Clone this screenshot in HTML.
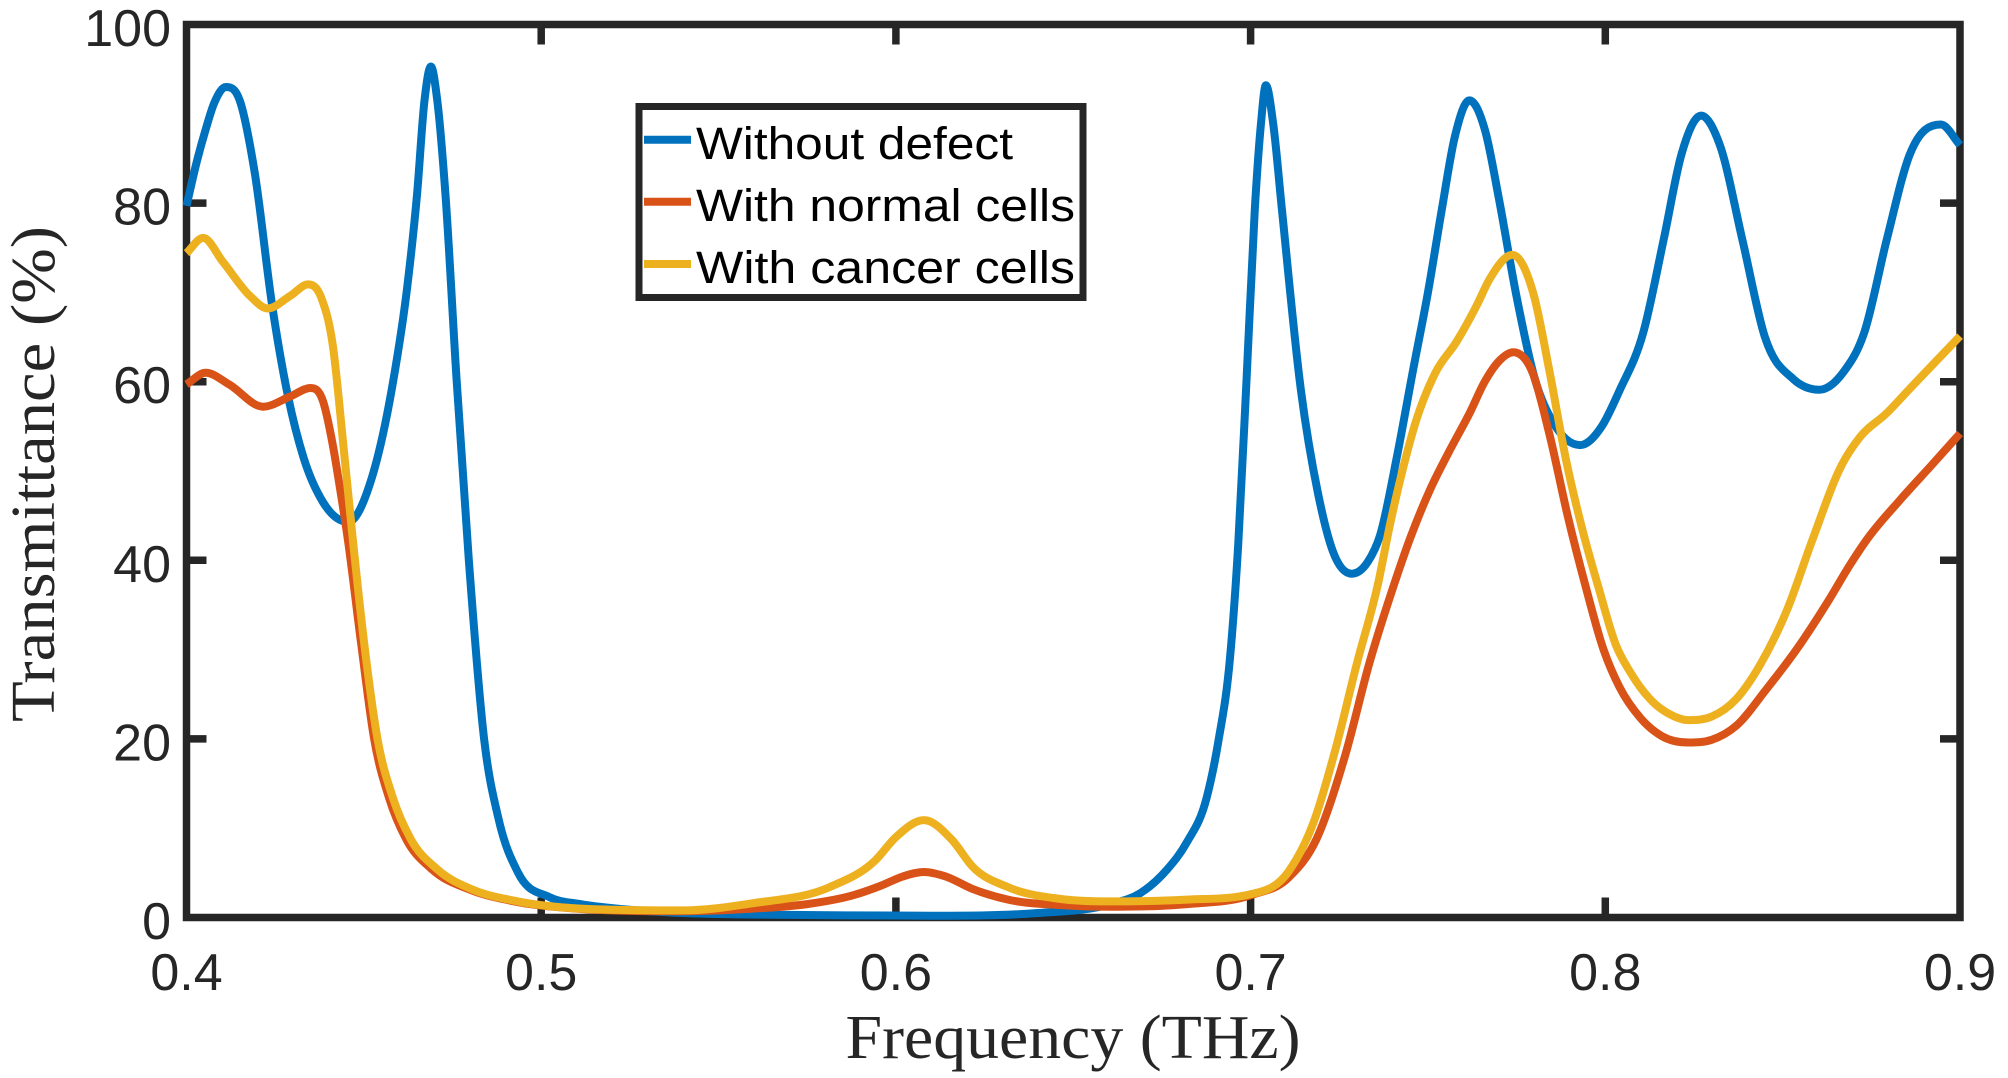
<!DOCTYPE html>
<html>
<head>
<meta charset="utf-8">
<style>
html,body{margin:0;padding:0;background:#fff;}
svg{display:block;}
.tl{font-family:"Liberation Sans",Arial,sans-serif;font-size:52px;fill:#262626;}
.lab{font-family:"Liberation Serif","Times New Roman",serif;font-size:62px;fill:#262626;}
.lg{font-family:"Liberation Sans",Arial,sans-serif;font-size:45px;fill:#000;}
</style>
</head>
<body>
<svg id="c" xmlns="http://www.w3.org/2000/svg" width="2008" height="1078" viewBox="0 0 2008 1078">
<rect width="2008" height="1078" fill="#fff"/>
<g stroke="#262626" stroke-width="7.5" fill="none" stroke-linecap="butt">
  <rect x="186.5" y="24.5" width="1773.5" height="893"/>
  <path d="M541.2,917.5V897.5M895.9,917.5V897.5M1250.6,917.5V897.5M1605.3,917.5V897.5
           M541.2,24.5V44.5M895.9,24.5V44.5M1250.6,24.5V44.5M1605.3,24.5V44.5
           M186.5,738.9H206.5M186.5,560.3H206.5M186.5,381.7H206.5M186.5,203.1H206.5
           M1960,738.9H1940M1960,560.3H1940M1960,381.7H1940M1960,203.1H1940"/>
</g>
<g class="tl" text-anchor="middle">
  <text x="186.5" y="990">0.4</text>
  <text x="541.2" y="990">0.5</text>
  <text x="895.9" y="990">0.6</text>
  <text x="1250.6" y="990">0.7</text>
  <text x="1605.3" y="990">0.8</text>
  <text x="1960" y="990">0.9</text>
</g>
<g class="tl" text-anchor="end">
  <text x="171" y="939">0</text>
  <text x="171" y="760.4">20</text>
  <text x="171" y="581.8">40</text>
  <text x="171" y="403.2">60</text>
  <text x="171" y="224.6">80</text>
  <text x="171" y="46">100</text>
</g>
<text class="lab" x="1073" y="1058" text-anchor="middle" textLength="455" lengthAdjust="spacingAndGlyphs">Frequency (THz)</text>
<text class="lab" x="0" y="0" transform="translate(54,474) rotate(-90)" text-anchor="middle" textLength="496" lengthAdjust="spacingAndGlyphs">Transmittance (%)</text>
<g id="curves" fill="none" stroke-width="8" stroke-linejoin="round" stroke-linecap="butt"></g>
<rect x="639" y="106.5" width="444" height="191" fill="#fff" stroke="#262626" stroke-width="7"/>
<g stroke-width="8">
  <line x1="644" y1="139.7" x2="691" y2="139.7" stroke="#0072BD"/>
  <line x1="644" y1="201.7" x2="691" y2="201.7" stroke="#D95319"/>
  <line x1="644" y1="264" x2="691" y2="264" stroke="#EDB120"/>
</g>
<text class="lg" x="696" y="159" textLength="317" lengthAdjust="spacingAndGlyphs">Without defect</text>
<text class="lg" x="696" y="221" textLength="379" lengthAdjust="spacingAndGlyphs">With normal cells</text>
<text class="lg" x="696" y="283" textLength="379" lengthAdjust="spacingAndGlyphs">With cancer cells</text>
</svg>
<script>
(function(){
  var X=function(f){return 186.5+(f-0.4)*3547;};
  var Y=function(t){return 917.5-t*8.93;};
  function sgn(v){return v>0?1:(v<0?-1:0);}
  function spline(pts){
    var n=pts.length,x=[],y=[],h=[],d=[],m=[],i;
    for(i=0;i<n;i++){x.push(X(pts[i][0]));y.push(Y(pts[i][1]));}
    for(i=0;i<n-1;i++){h[i]=x[i+1]-x[i];d[i]=(y[i+1]-y[i])/h[i];}
    m[0]=d[0];m[n-1]=d[n-2];
    for(i=1;i<n-1;i++){
      if(d[i-1]*d[i]<=0){m[i]=0;continue;}
      var p=(d[i-1]*h[i]+d[i]*h[i-1])/(h[i-1]+h[i]);
      var lim=Math.min(3*Math.abs(d[i-1]),3*Math.abs(d[i]),Math.abs(p));
      m[i]=sgn(p)*lim;
    }
    /* Fritsch-Carlson monotonicity safeguard */
    for(i=0;i<n-1;i++){
      if(d[i]===0){m[i]=0;m[i+1]=0;continue;}
      var a=m[i]/d[i],b=m[i+1]/d[i],s=a*a+b*b;
      if(s>9){var t=3/Math.sqrt(s);m[i]=t*a*d[i];m[i+1]=t*b*d[i];}
    }
    var str='M'+x[0].toFixed(2)+','+y[0].toFixed(2);
    for(i=0;i<n-1;i++){
      var k=h[i]/3;
      str+='C'+(x[i]+k).toFixed(2)+','+(y[i]+m[i]*k).toFixed(2)+' '+(x[i+1]-k).toFixed(2)+','+(y[i+1]-m[i+1]*k).toFixed(2)+' '+x[i+1].toFixed(2)+','+y[i+1].toFixed(2);
    }
    return str;
  }
  var blue=[[0.4000,79.7],[0.4030,84.8],[0.4053,88.1],[0.4078,91.2],[0.4111,93.0],[0.4150,91.5],[0.4192,83.5],[0.4242,68.4],[0.4286,58.4],[0.4330,51.5],[0.4385,46.5],[0.4456,44.3],[0.4519,48.8],[0.4582,59.9],[0.4622,70.5],[0.4650,81.0],[0.4671,91.5],[0.4689,95.3],[0.4707,91.5],[0.4730,81.0],[0.4761,60.5],[0.4796,40.0],[0.4839,20.0],[0.4880,11.0],[0.4935,5.0],[0.5022,2.3],[0.5110,1.5],[0.5240,0.9],[0.5400,0.5],[0.5700,0.3],[0.6100,0.2],[0.6400,0.5],[0.6604,1.5],[0.6688,2.7],[0.6763,5.3],[0.6820,8.4],[0.6876,13.4],[0.6909,19.7],[0.6942,29.1],[0.6965,41.7],[0.6989,60.6],[0.7012,79.4],[0.7029,88.8],[0.7043,93.2],[0.7064,88.8],[0.7088,79.4],[0.7142,59.0],[0.7190,47.5],[0.7232,41.0],[0.7285,38.5],[0.7330,39.8],[0.7365,42.8],[0.7412,51.5],[0.7459,61.5],[0.7500,70.0],[0.7540,79.5],[0.7575,87.3],[0.7617,91.5],[0.7662,88.0],[0.7700,80.5],[0.7750,69.5],[0.7800,60.5],[0.7855,55.3],[0.7929,52.9],[0.7990,55.0],[0.8040,59.0],[0.8107,65.5],[0.8165,76.0],[0.8215,85.5],[0.8270,89.8],[0.8323,86.5],[0.8387,75.8],[0.8450,65.0],[0.8530,60.3],[0.8603,59.1],[0.8670,61.0],[0.8730,65.5],[0.8794,76.0],[0.8858,85.4],[0.8946,88.8],[0.9000,86.5]];
  var orange=[[0.4000,59.7],[0.4054,61.0],[0.4120,59.7],[0.4216,57.2],[0.4290,58.3],[0.4350,59.3],[0.4385,57.8],[0.4412,53.0],[0.4433,48.0],[0.4455,42.3],[0.4492,30.8],[0.4529,20.0],[0.4571,13.4],[0.4619,8.8],[0.4692,5.4],[0.4800,3.1],[0.4912,1.9],[0.5095,1.0],[0.5400,0.7],[0.5600,1.0],[0.5750,1.5],[0.5880,2.5],[0.5960,3.6],[0.6020,4.6],[0.6079,5.1],[0.6140,4.6],[0.6216,3.2],[0.6316,2.0],[0.6460,1.4],[0.6604,1.2],[0.6820,1.5],[0.7000,2.5],[0.7108,4.5],[0.7186,8.8],[0.7267,18.2],[0.7335,28.5],[0.7402,37.0],[0.7452,42.7],[0.7507,48.0],[0.7560,52.2],[0.7619,56.6],[0.7660,60.0],[0.7700,62.3],[0.7741,63.3],[0.7795,61.0],[0.7842,54.2],[0.7895,44.8],[0.7945,37.0],[0.7995,30.0],[0.8040,25.8],[0.8100,22.3],[0.8160,20.3],[0.8234,19.6],[0.8300,19.9],[0.8370,21.5],[0.8451,25.4],[0.8539,30.0],[0.8628,35.4],[0.8690,39.5],[0.8737,42.3],[0.8832,46.8],[0.8921,50.7],[0.9000,54.2]];
  var yellow=[[0.4000,74.4],[0.4047,76.1],[0.4103,73.4],[0.4179,69.6],[0.4229,68.2],[0.4292,69.6],[0.4343,70.9],[0.4380,69.4],[0.4412,64.2],[0.4443,52.6],[0.4469,42.3],[0.4501,30.7],[0.4539,19.9],[0.4582,13.4],[0.4632,8.8],[0.4707,5.4],[0.4808,3.1],[0.4922,1.9],[0.5110,1.0],[0.5400,0.8],[0.5597,1.6],[0.5813,3.4],[0.5942,6.4],[0.6000,9.0],[0.6079,10.9],[0.6158,8.7],[0.6216,5.7],[0.6316,3.4],[0.6460,2.1],[0.6604,1.8],[0.6820,2.0],[0.7000,2.6],[0.7108,5.2],[0.7179,10.8],[0.7237,18.5],[0.7300,28.5],[0.7360,37.5],[0.7393,44.0],[0.7431,50.5],[0.7468,55.8],[0.7521,61.0],[0.7581,64.5],[0.7637,68.5],[0.7674,71.5],[0.7738,74.2],[0.7799,69.6],[0.7842,61.3],[0.7890,51.1],[0.7935,43.5],[0.7982,36.8],[0.8030,30.5],[0.8070,27.5],[0.8130,24.3],[0.8180,22.8],[0.8234,22.1],[0.8300,22.5],[0.8370,24.5],[0.8438,28.4],[0.8514,34.6],[0.8584,42.3],[0.8667,50.7],[0.8718,53.8],[0.8794,56.5],[0.8858,59.2],[0.9000,65.1]];
  var g=document.getElementById('curves');
  var series=[[blue,'#0072BD'],[orange,'#D95319'],[yellow,'#EDB120']];
  for(var i=0;i<series.length;i++){
    var p=document.createElementNS('http://www.w3.org/2000/svg','path');
    p.setAttribute('d',spline(series[i][0]));
    p.setAttribute('stroke',series[i][1]);
    g.appendChild(p);
  }
})();
</script>
</body>
</html>
